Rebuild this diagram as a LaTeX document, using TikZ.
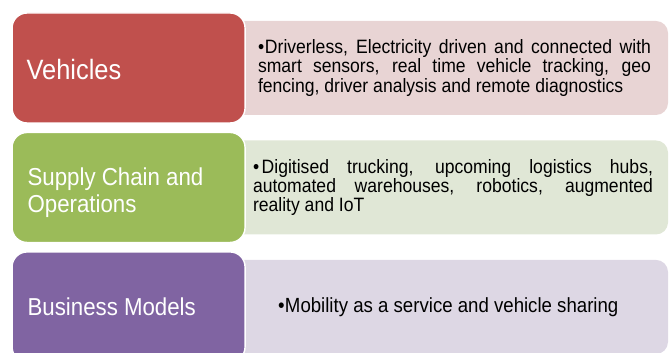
\documentclass[tikz,border=0pt]{standalone}
\usepackage{fontspec}
\setmainfont{Liberation Sans}
\usetikzlibrary{positioning}

\definecolor{vehred}{HTML}{C0504D}
\definecolor{vehpink}{HTML}{E8D4D4}
\definecolor{supgreen}{HTML}{9BBB59}
\definecolor{supmint}{HTML}{E0E7D6}
\definecolor{buspurple}{HTML}{8064A2}
\definecolor{buslilac}{HTML}{DDD7E4}

\newcommand*{\bulletitem}[1]{%
    \tolerance=10000
    \noindent\hangindent=#1\hangafter=1\makebox[#1][l]{\textbullet}%
}

\begin{document}
\begin{tikzpicture}[
        catbox/.style = {rectangle, rounded corners = 0.45cm, draw = white, line width = 1.2pt,
            minimum width = 6.99cm, minimum height = 3.3cm, inner sep = 0},
        infobox/.style = {rectangle, rounded corners = 0.36cm,
            minimum width = 13.14cm, minimum height = 2.82cm, inner sep = 0},
        catlabel/.style = {text = white, align = left, inner sep = 0, yshift = -0.06cm,
            yscale = 1.1, transform shape, font = \fontsize{19}{20.7}\selectfont},
        infotext/.style = {align = justify, inner sep = 0, yscale = 1.1, transform shape,
            font = \fontsize{15}{14.9}\selectfont}
    ]
    \useasboundingbox[clip] (0,0) rectangle (20.1,10.56);

    %\draw[help lines, opacity = 0.1] (0,0) grid (20,10);

    % light boxes go first, the coloured ones sit on top of their left ends
    \node (vehinfo) at (13.47,8.52) [infobox, fill = vehpink] {};
    \node (supinfo) [infobox, fill = supmint, below = 0.75cm of vehinfo] {};
    \node (businfo) [infobox, fill = buslilac, below = 0.75cm of supinfo] {};

    \node (vehicles) [catbox, fill = vehred, left = -0.48cm of vehinfo.west] {};
    \node (supply) [catbox, fill = supgreen, left = -0.48cm of supinfo.west] {};
    \node (business) [catbox, fill = buspurple, left = -0.48cm of businfo.west] {};

    \node (vehlabel) [catlabel, font = \fontsize{21.7}{22.8}\selectfont, right = 0.45cm of vehicles.west] {Vehicles};
    \node (suplabel) [catlabel, yshift = -0.08cm, right = 0.48cm of supply.west] {Supply Chain and\\Operations};
    \node (buslabel) [catlabel, yshift = 0.05cm, right = 0.48cm of business.west] {Business Models};

    \node (vehtext) [infotext, text width = 11.79cm, right = 0.84cm of vehinfo.west]
        {\bulletitem{0.21cm}Driverless, Electricity driven and connected with\linebreak
        smart sensors, real time vehicle tracking, geo\linebreak
        fencing, driver analysis and remote diagnostics};
    \node (suptext) [infotext, text width = 12cm, right = 0.69cm of supinfo.west]
        {\bulletitem{0.26cm}Digitised trucking, upcoming logistics hubs,\linebreak
        automated warehouses, robotics, augmented\linebreak
        reality and IoT};
    \node (bustext) [infotext, font = \fontsize{15.9}{16}\selectfont, right = 1.44cm of businfo.west]
        {\bulletitem{0.21cm}Mobility as a service and vehicle sharing};

\end{tikzpicture}
\end{document}
